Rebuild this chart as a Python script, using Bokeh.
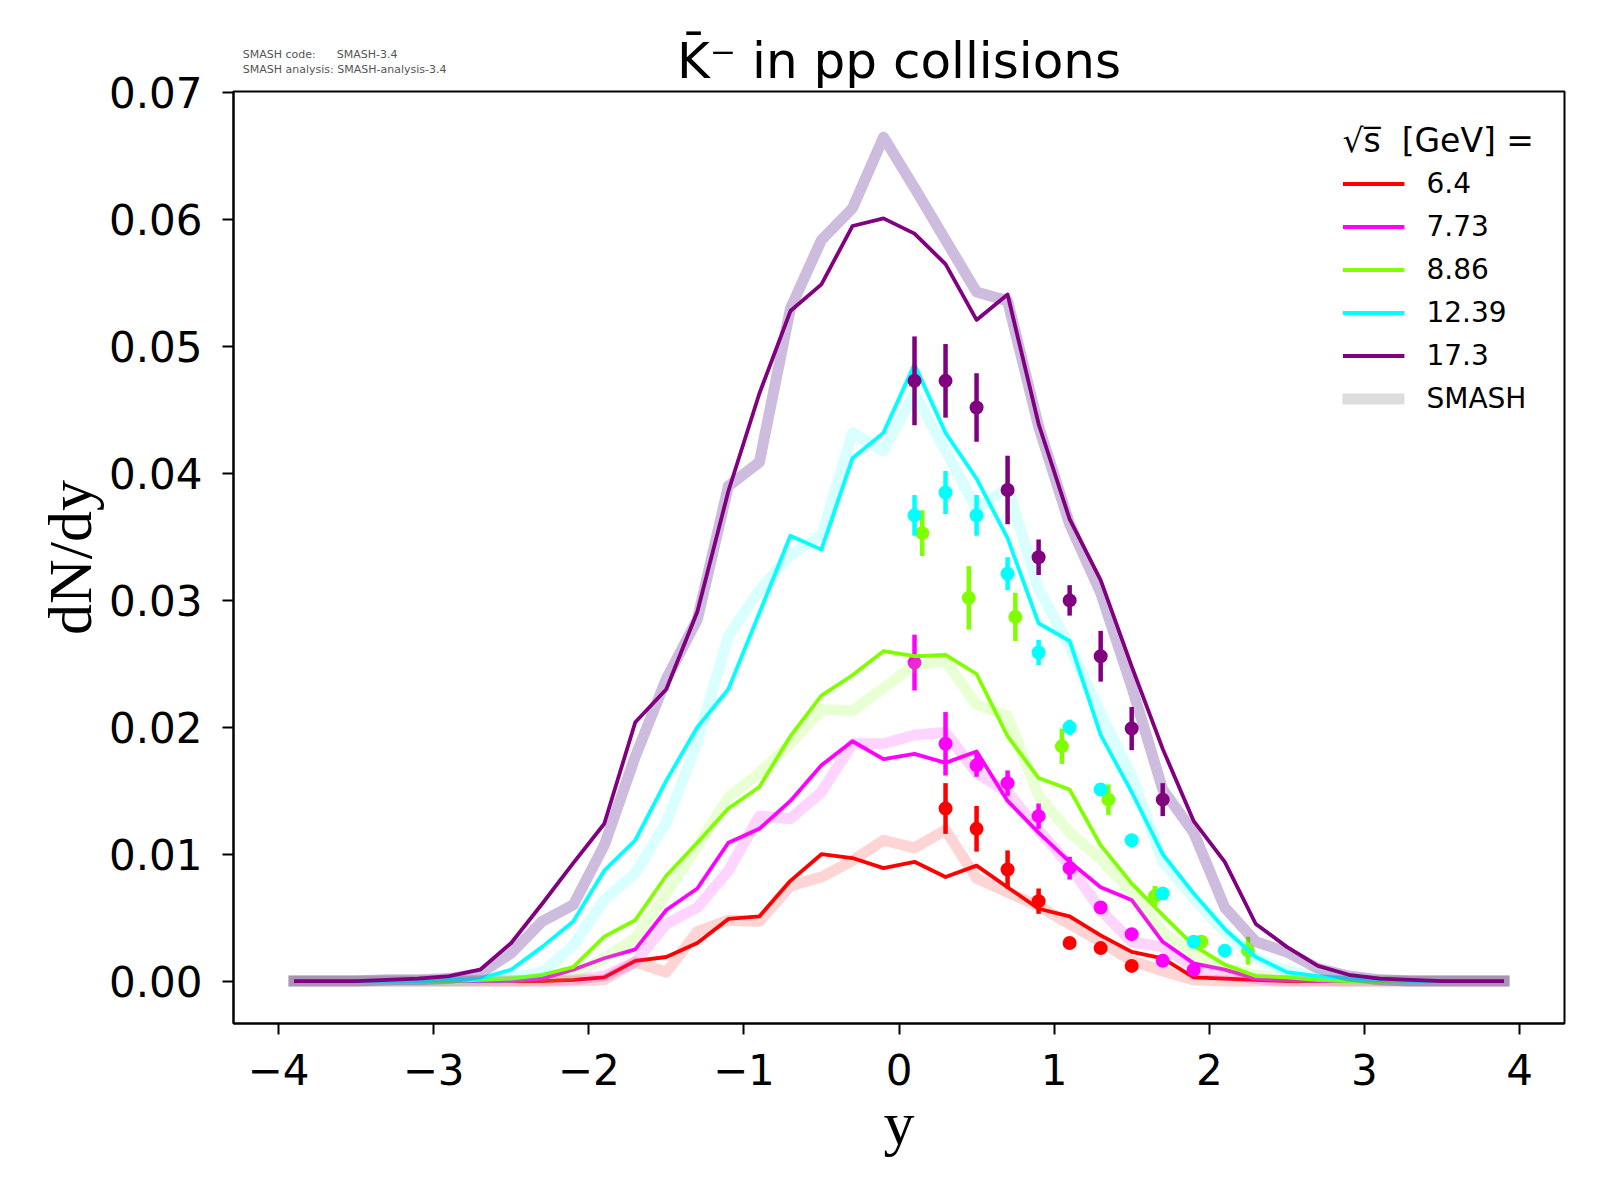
from bokeh.plotting import figure
from bokeh.models import Range1d, FixedTicker, PrintfTickFormatter, Legend, LegendItem, Label, ColumnDataSource
from bokeh.embed import file_html
from bokeh.resources import INLINE

# ---------------- data ----------------
rapidity = [-3.9, -3.7, -3.5, -3.3, -3.1, -2.9, -2.7, -2.5, -2.3, -2.1,
            -1.9, -1.7, -1.5, -1.3, -1.1, -0.9, -0.7, -0.5, -0.3, -0.1,
            0.1, 0.3, 0.5, 0.7, 0.9, 1.1, 1.3, 1.5, 1.7, 1.9,
            2.1, 2.3, 2.5, 2.7, 2.9, 3.1, 3.3, 3.5, 3.7, 3.9]

energies = ["6.4", "7.73", "8.86", "12.39", "17.3"]
colors = ["red", "magenta", "#7fff00", "cyan", "purple"]
smash_colors = ["red", "magenta", "#7fff00", "cyan", "rebeccapurple"]
smash_alpha = [0.17, 0.17, 0.17, 0.15, 0.33]

# thin lines
line_6_4 = [0, 0, 0, 0, 0, 0, 0, 0, 0, 0.0001,
            0.0003, 0.0016, 0.0019, 0.0030, 0.0049, 0.0051, 0.0079, 0.0100, 0.0097, 0.0089,
            0.0094, 0.0082, 0.0091, 0.0074, 0.0057, 0.0051, 0.0036, 0.0023, 0.0018, 0.0003,
            0.0002, 0.0001, 0, 0, 0, 0, 0, 0, 0, 0]
line_7_73 = [0, 0, 0, 0, 0, 0, 0, 0, 0.0002, 0.0009,
             0.0018, 0.0025, 0.0056, 0.0073, 0.0109, 0.0120, 0.0142, 0.0170, 0.0189, 0.0175,
             0.0179, 0.0172, 0.0181, 0.0142, 0.0117, 0.0094, 0.0074, 0.0064, 0.0031, 0.0014,
             0.0009, 0.0002, 0.0001, 0, 0, 0, 0, 0, 0, 0]
line_8_86 = [0, 0, 0, 0, 0, 0, 0.0001, 0.0002, 0.0005, 0.0011,
             0.0035, 0.0048, 0.0083, 0.0109, 0.0136, 0.0153, 0.0193, 0.0225, 0.0241, 0.0260,
             0.0256, 0.0257, 0.0242, 0.0193, 0.0160, 0.0151, 0.0107, 0.0077, 0.0052, 0.0028,
             0.0013, 0.0004, 0.0003, 0.0001, 0, 0, 0, 0, 0, 0]
line_12_39 = [0, 0, 0, 0, 0, 0.0001, 0.0002, 0.0009, 0.0027, 0.0047,
              0.0087, 0.0111, 0.0158, 0.0200, 0.0230, 0.0290, 0.0351, 0.0340, 0.0412, 0.0432,
              0.0486, 0.0432, 0.0396, 0.0349, 0.0282, 0.0268, 0.0194, 0.0149, 0.0100, 0.0069,
              0.0041, 0.0019, 0.0007, 0.0004, 0.0002, 0.0001, 0, 0, 0, 0]
line_17_3 = [0, 0, 0, 0.0001, 0.0002, 0.0004, 0.0009, 0.0030, 0.0061, 0.0093,
             0.0124, 0.0204, 0.0230, 0.0291, 0.0386, 0.0463, 0.0528, 0.0549, 0.0595, 0.0601,
             0.0589, 0.0565, 0.0521, 0.0541, 0.0439, 0.0364, 0.0316, 0.0248, 0.0183, 0.0126,
             0.0094, 0.0045, 0.0027, 0.0012, 0.0005, 0.0002, 0.0001, 0, 0, 0]

# SMASH (thick) lines
smash_6_4 = [0, 0, 0, 0, 0, 0, 0, 0, 0, 0,
             0.0001, 0.0015, 0.0007, 0.0039, 0.0048, 0.0047, 0.0075, 0.0082, 0.0095, 0.0111,
             0.0105, 0.0119, 0.0081, 0.0070, 0.0059, 0.0045, 0.0031, 0.0016, 0.0008, 0.0001,
             0, 0, 0, 0, 0, 0, 0, 0, 0, 0]
smash_7_73 = [0, 0, 0, 0, 0, 0, 0, 0, 0, 0.0001,
              0.0004, 0.0015, 0.0045, 0.0058, 0.0087, 0.0130, 0.0128, 0.0149, 0.0187, 0.0187,
              0.0194, 0.0196, 0.0164, 0.0149, 0.0119, 0.0091, 0.0056, 0.0031, 0.0027, 0.0011,
              0.0005, 0.0002, 0, 0, 0, 0, 0, 0, 0, 0]
smash_8_86 = [0, 0, 0, 0, 0, 0, 0, 0, 0.0001, 0.0005,
              0.0018, 0.0034, 0.0069, 0.0106, 0.0145, 0.0164, 0.0187, 0.0214, 0.0213, 0.0231,
              0.0249, 0.0252, 0.0218, 0.0209, 0.0146, 0.0117, 0.0096, 0.0070, 0.0039, 0.0021,
              0.0010, 0.0005, 0.0002, 0.0001, 0, 0, 0, 0, 0, 0]
smash_12_39 = [0, 0, 0, 0, 0, 0, 0.0001, 0.0003, 0.0007, 0.0028,
               0.0064, 0.0085, 0.0125, 0.0188, 0.0272, 0.0308, 0.0336, 0.0351, 0.0432, 0.0418,
               0.0463, 0.0418, 0.0372, 0.0389, 0.0309, 0.0264, 0.0211, 0.0162, 0.0094, 0.0065,
               0.0039, 0.0018, 0.0008, 0.0004, 0.0002, 0.0001, 0, 0, 0, 0]
smash_17_3 = [0, 0, 0, 0.0001, 0.0001, 0.0002, 0.0006, 0.0022, 0.0047, 0.0060,
              0.0107, 0.0177, 0.0238, 0.0285, 0.0390, 0.0409, 0.0530, 0.0584, 0.0609, 0.0665,
              0.0625, 0.0584, 0.0543, 0.0536, 0.0437, 0.0360, 0.0306, 0.0232, 0.0151, 0.0117,
              0.0058, 0.0031, 0.0023, 0.0010, 0.0004, 0.0001, 0, 0, 0, 0]

# experimental points
exp_x_6_4 = [0.3, 0.5, 0.7, 0.9, 1.1, 1.3, 1.5]
exp_y_6_4 = [0.0136, 0.0120, 0.0088, 0.0063, 0.0030, 0.0026, 0.0012]
exp_e_6_4 = [0.0020, 0.0018, 0.0015, 0.0010, 0.0002, 0.0002, 0.0002]

exp_x_7_73 = [0.1, 0.3, 0.5, 0.7, 0.9, 1.1, 1.3, 1.5, 1.7, 1.9]
exp_y_7_73 = [0.0251, 0.0187, 0.0170, 0.0156, 0.0130, 0.0089, 0.0058, 0.0037, 0.0016, 0.0009]
exp_e_7_73 = [0.0022, 0.0025, 0.0009, 0.0010, 0.0010, 0.0009, 0.0005, 0.0002, 0.0002, 0.0002]

exp_x_8_86 = [0.15, 0.45, 0.75, 1.05, 1.35, 1.65, 1.95, 2.25]
exp_y_8_86 = [0.0353, 0.0302, 0.0287, 0.0185, 0.0143, 0.0067, 0.0031, 0.0024]
exp_e_8_86 = [0.0018, 0.0025, 0.0019, 0.0014, 0.0012, 0.0008, 0.0003, 0.0011]

exp_x_12_39 = [0.1, 0.3, 0.5, 0.7, 0.9, 1.1, 1.3, 1.5, 1.7, 1.9, 2.1]
exp_y_12_39 = [0.0367, 0.0385, 0.0367, 0.0321, 0.0259, 0.0200, 0.0151, 0.0111, 0.0069, 0.0031, 0.0024]
exp_e_12_39 = [0.0016, 0.0017, 0.0016, 0.0013, 0.0010, 0.0006, 0.0003, 0.0002, 0.0002, 0.0002, 0.0002]

exp_x_17_3 = [0.1, 0.3, 0.5, 0.7, 0.9, 1.1, 1.3, 1.5, 1.7]
exp_y_17_3 = [0.0473, 0.0473, 0.0452, 0.0387, 0.0334, 0.0300, 0.0256, 0.0199, 0.0143]
exp_e_17_3 = [0.0035, 0.0029, 0.0027, 0.0027, 0.0014, 0.0012, 0.0020, 0.0017, 0.0013]

x_ticks = [-4, -3, -2, -1, 0, 1, 2, 3, 4]
x_tick_labels = ["\u22124", "\u22123", "\u22122", "\u22121", "0", "1", "2", "3", "4"]
y_ticks = [0.0, 0.01, 0.02, 0.03, 0.04, 0.05, 0.06, 0.07]

title_text = "K\u0304\u207b in pp collisions"
version_lines = ["SMASH code:\u00a0\u00a0\u00a0\u00a0\u00a0\u00a0SMASH-3.4",
                 "SMASH analysis: SMASH-analysis-3.4"]

lines = [line_6_4, line_7_73, line_8_86, line_12_39, line_17_3]
smash = [smash_6_4, smash_7_73, smash_8_86, smash_12_39, smash_17_3]
exp_x = [exp_x_6_4, exp_x_7_73, exp_x_8_86, exp_x_12_39, exp_x_17_3]
exp_y = [exp_y_6_4, exp_y_7_73, exp_y_8_86, exp_y_12_39, exp_y_17_3]
exp_e = [exp_e_6_4, exp_e_7_73, exp_e_8_86, exp_e_12_39, exp_e_17_3]

# ---------------- figure ----------------
p = figure(width=1584, height=1184, output_backend="svg", toolbar_location=None,
           x_range=Range1d(-4.29, 4.29), y_range=Range1d(-0.00334, 0.0701),
           min_border_left=233, min_border_right=20, min_border_top=91, min_border_bottom=161,
           background_fill_color="white", border_fill_color="white")
p.title_location = None

p.xgrid.visible = False
p.ygrid.visible = False
p.outline_line_color = "black"
p.outline_line_width = 2
p.outline_line_alpha = 1

for ax in (p.xaxis[0], p.yaxis[0]):
    ax.major_label_text_font = "DejaVu Sans"
    ax.major_label_text_font_size = "42px"
    ax.major_label_text_color = "black"
    ax.axis_line_width = 2
    ax.major_tick_line_width = 2
    ax.major_tick_out = 11
    ax.major_tick_in = 0
    ax.minor_tick_out = 0
    ax.minor_tick_in = 0
    ax.axis_label_text_font = "Liberation Serif"
    ax.axis_label_text_font_size = "62px"
    ax.axis_label_text_font_style = "normal"
    ax.axis_label_text_color = "black"

p.xaxis.ticker = FixedTicker(ticks=x_ticks)
p.xaxis.major_label_overrides = {t: l for t, l in zip(x_ticks, x_tick_labels)}
p.xaxis.major_label_standoff = 19
p.xaxis.axis_label = "y"
p.xaxis.axis_label_standoff = 1

p.yaxis.ticker = FixedTicker(ticks=y_ticks)
p.yaxis.formatter = PrintfTickFormatter(format="%.2f")
p.yaxis.major_label_standoff = 20
p.yaxis.axis_label = "dN/dy"
p.yaxis.axis_label_standoff = 2

thin_renderers = []
for i in range(5):
    p.line(rapidity, smash[i], line_color=smash_colors[i], line_alpha=smash_alpha[i],
           line_width=11, line_join="round", line_cap="square")
    r = p.line(rapidity, lines[i], line_color=colors[i], line_width=3.8, line_join="round")
    thin_renderers.append(r)
    lo = [y - e for y, e in zip(exp_y[i], exp_e[i])]
    hi = [y + e for y, e in zip(exp_y[i], exp_e[i])]
    src = ColumnDataSource(dict(x=exp_x[i], y=exp_y[i], lo=lo, hi=hi))
    p.segment(x0="x", y0="lo", x1="x", y1="hi", source=src, line_color=colors[i], line_width=4.5)
    p.scatter(x="x", y="y", source=src, size=14, fill_color=colors[i], line_color=None)

nan = float("nan")
smash_dummy = p.line(x=[nan], y=[nan], line_color="#dddddd", line_width=11, line_cap="square")

items = [LegendItem(label=energies[i], renderers=[thin_renderers[i]]) for i in range(5)]
items.append(LegendItem(label="SMASH", renderers=[smash_dummy]))
legend = Legend(items=items, location="top_right",
                title="\u221as\u0305  [GeV] =",
                title_text_font="DejaVu Sans", title_text_font_size="33px",
                title_text_font_style="normal", title_text_color="black", title_standoff=7,
                label_text_font="DejaVu Sans", label_text_font_size="28px", label_text_color="black",
                glyph_width=62, glyph_height=33, label_height=33, label_standoff=22,
                spacing=10, padding=8, margin=30,
                border_line_color=None, background_fill_alpha=0)
p.add_layout(legend)

# title and version info, placed above the frame
p.add_layout(Label(x=0, y=0.0725, text=title_text, text_align="center",
                   text_baseline="alphabetic", text_font="DejaVu Sans",
                   text_font_size="50px", text_color="black"), "above")
version_y = [0.0730, 0.0718]
for txt, yy in zip(version_lines, version_y):
    p.add_layout(Label(x=-4.23, y=yy, text=txt,
                       text_font="DejaVu Sans", text_font_size="11px", text_color="#555555",
                       text_baseline="middle"), "above")

open("out.html", "w").write(file_html(p, INLINE))
